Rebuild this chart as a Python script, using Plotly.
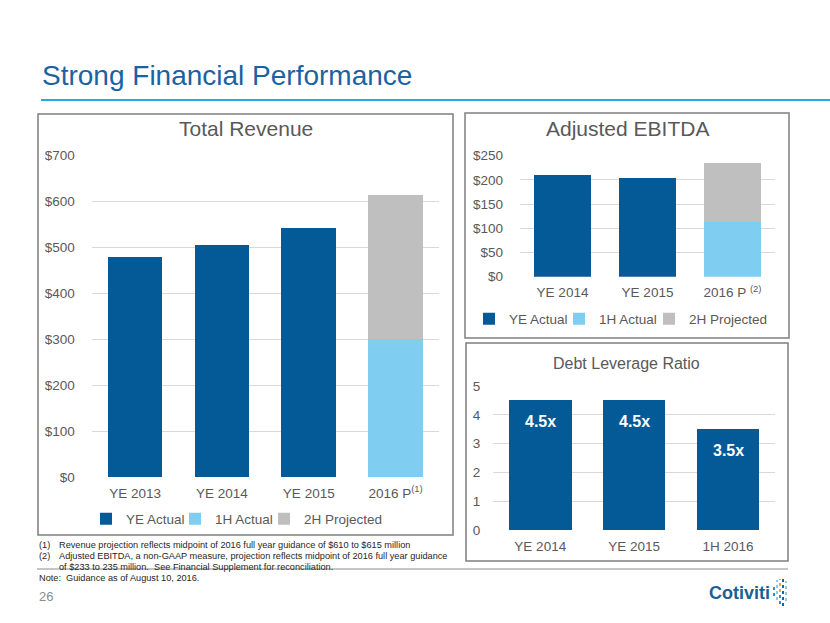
import plotly.graph_objects as go

# ---------------- data ----------------
rev_categories = ["YE 2013", "YE 2014", "YE 2015", "2016 P"]
rev_ticktext = ["YE 2013", "YE 2014", "YE 2015", "2016 P<sup>(1)</sup>"]
rev_ye_actual = [479, 505, 541, None]
rev_1h_actual = [None, None, None, 300]
rev_2h_projected = [None, None, None, 312]
rev_tickvals = [0, 100, 200, 300, 400, 500, 600, 700]

ebitda_categories = ["YE 2014", "YE 2015", "2016 P"]
ebitda_ticktext = ["YE 2014", "YE 2015", "2016 P <sup>(2)</sup>"]
ebitda_ye_actual = [210, 203, None]
ebitda_1h_actual = [None, None, 114]
ebitda_2h_projected = [None, None, 120]
ebitda_tickvals = [0, 50, 100, 150, 200, 250]

debt_categories = ["YE 2014", "YE 2015", "1H 2016"]
debt_values = [4.5, 4.5, 3.5]
debt_labels = ["4.5x", "4.5x", "3.5x"]
debt_tickvals = [0, 1, 2, 3, 4, 5]

series_names = ["YE Actual", "1H Actual", "2H Projected"]

# ---------------- styles ----------------
W, H = 830, 623
FONT = "Liberation Sans, Arial, sans-serif"
C_DARK = "#045a96"
C_LIGHT = "#7fcdf1"
C_GRAY = "#bfbfbf"
C_TEXT = "#595959"
C_GRID = "#d9d9d9"
C_BORDER = "#7f7f7f"
C_TITLE = "#1b62a3"


def px(x):
    return x / W


def py(y):
    return 1 - y / H


fig = go.Figure()

colors = [C_DARK, C_LIGHT, C_GRAY]

for i, (name, vals, col) in enumerate(zip(series_names, [rev_ye_actual, rev_1h_actual, rev_2h_projected], colors)):
    fig.add_trace(go.Bar(x=rev_categories, y=vals, name=name, marker_color=col,
                         marker_line_width=0, width=0.63, xaxis="x", yaxis="y",
                         legend="legend", hoverinfo="skip",
                         legendwidth=85 if i == 2 else None))

for i, (name, vals, col) in enumerate(zip(series_names, [ebitda_ye_actual, ebitda_1h_actual, ebitda_2h_projected], colors)):
    fig.add_trace(go.Bar(x=ebitda_categories, y=vals, name=name, marker_color=col,
                         marker_line_width=0, width=0.667, xaxis="x2", yaxis="y2",
                         legend="legend2", hoverinfo="skip",
                         legendwidth=85 if i == 2 else None))

fig.add_trace(go.Bar(x=debt_categories, y=debt_values, name="Debt Leverage Ratio",
                     marker_color=C_DARK, marker_line_width=0, width=0.667,
                     xaxis="x3", yaxis="y3", showlegend=False, hoverinfo="skip"))

axis_font = dict(family=FONT, size=13.5, color=C_TEXT)

common_x = dict(type="category", showgrid=False, showline=False, zeroline=False,
                ticks="", tickfont=axis_font, ticklabelstandoff=6, fixedrange=True,
                automargin=False)
common_y = dict(showgrid=True, gridcolor=C_GRID, gridwidth=1, zeroline=False,
                showline=False, ticks="", tickfont=axis_font, fixedrange=True,
                automargin=False)

legend_common = dict(orientation="h", xanchor="left", yanchor="middle",
                     font=dict(family=FONT, size=13.5, color=C_TEXT), bgcolor="rgba(0,0,0,0)",
                     itemclick=False, itemdoubleclick=False, traceorder="normal")

fig.update_layout(
    width=W, height=H,
    margin=dict(l=0, r=0, t=0, b=0, pad=0, autoexpand=False),
    paper_bgcolor="white", plot_bgcolor="white",
    barmode="stack",
    font=dict(family=FONT, color=C_TEXT),
    xaxis=dict(common_x, domain=[px(91.7), px(439)], anchor="y",
               tickvals=rev_categories, ticktext=rev_ticktext),
    yaxis=dict(common_y, domain=[py(477), py(155)], anchor="x", range=[0, 700],
               tickvals=rev_tickvals, ticktext=[f"${v}" for v in rev_tickvals],
               ticklabelstandoff=16),
    xaxis2=dict(common_x, domain=[px(520), px(775)], anchor="y2",
                tickvals=ebitda_categories, ticktext=ebitda_ticktext),
    yaxis2=dict(common_y, domain=[py(276.7), py(155.7)], anchor="x2", range=[0, 250],
                tickvals=ebitda_tickvals, ticktext=[f"${v}" for v in ebitda_tickvals],
                ticklabelstandoff=16),
    xaxis3=dict(common_x, domain=[px(493.3), px(775)], anchor="y3"),
    yaxis3=dict(common_y, domain=[py(530), py(386)], anchor="x3", range=[0, 5],
                tickvals=debt_tickvals, ticklabelstandoff=12),
    legend=dict(legend_common, x=px(86), y=py(519), entrywidth=44),
    legend2=dict(legend_common, x=px(469), y=py(319), entrywidth=45),
    showlegend=True,
)

for cat, val, lab in zip(debt_categories, debt_values, debt_labels):
    fig.add_annotation(x=cat, y=val, xref="x3", yref="y3", text=f"<b>{lab}</b>",
                       showarrow=False, yshift=-21,
                       font=dict(family=FONT, size=16, color="white"))

shapes = []
for x0, y0, x1, y1 in [(38, 114, 453, 535), (465, 113, 789, 338), (466, 343, 788, 561)]:
    shapes.append(dict(type="rect", xref="paper", yref="paper",
                       x0=px(x0), y0=py(y1), x1=px(x1), y1=py(y0),
                       line=dict(color=C_BORDER, width=1.5), fillcolor="rgba(0,0,0,0)", layer="above"))
shapes.append(dict(type="line", xref="paper", yref="paper", x0=px(41), x1=px(830),
                   y0=py(100), y1=py(100), line=dict(color="#29a9e1", width=2)))
shapes.append(dict(type="line", xref="paper", yref="paper", x0=px(37), x1=px(788),
                   y0=py(569), y1=py(569), line=dict(color="#8c8c8c", width=1)))
icon = [(777, 580, 600, "#7fcdf1"), (780, 579, 592, "#f2a93b"), (780, 592, 604, "#2f8fd0"),
        (783, 576, 606, "#1b62a3"), (786, 581, 601, "#7fcdf1"), (774, 586, 596, "#2f8fd0")]
for x, y0, y1, c in icon:
    shapes.append(dict(type="line", xref="paper", yref="paper", x0=px(x), x1=px(x),
                       y0=py(y1), y1=py(y0), line=dict(color=c, width=2, dash="dot")))
fig.update_layout(shapes=shapes)


def note(text, x, y, size, color, anchor="left", **kw):
    fig.add_annotation(xref="paper", yref="paper", x=px(x), y=py(y), text=text,
                       showarrow=False, xanchor=anchor, yanchor="middle",
                       font=dict(family=FONT, size=size, color=color), **kw)


note("Strong Financial Performance", 40, 76, 28, C_TITLE)
note("Total Revenue", 245.5, 128, 21, C_TEXT, anchor="center")
note("Adjusted EBITDA", 627, 128, 21, C_TEXT, anchor="center")
note("Debt Leverage Ratio", 626, 363, 16, C_TEXT, anchor="center")

fn_color = "#262626"
fs = 9.2
note("(1)", 37, 545, fs, fn_color)
note("Revenue projection reflects midpoint of 2016 full year guidance of $610 to $615 million", 57, 545, fs, fn_color)
note("(2)", 37, 556, fs, fn_color)
note("Adjusted EBITDA, a non-GAAP measure, projection reflects midpoint of 2016 full year guidance", 57, 556, fs, fn_color)
note("of $233 to 235 million.  See Financial Supplement for reconciliation.", 57, 566.5, fs, fn_color)
note("Note:  Guidance as of August 10, 2016.", 37, 578, fs, fn_color)
note("26", 37, 596, 13, "#8c8c8c")

fig.add_annotation(xref="paper", yref="paper", x=px(707), y=py(593), text="<b>Cotiviti</b>",
                   showarrow=False, xanchor="left", yanchor="middle",
                   font=dict(family=FONT, size=18, color="#1b5f94"))

fig.write_html("out.html", config={"displayModeBar": False},
               post_script="document.body.style.margin='0';document.body.style.overflow='hidden';")
